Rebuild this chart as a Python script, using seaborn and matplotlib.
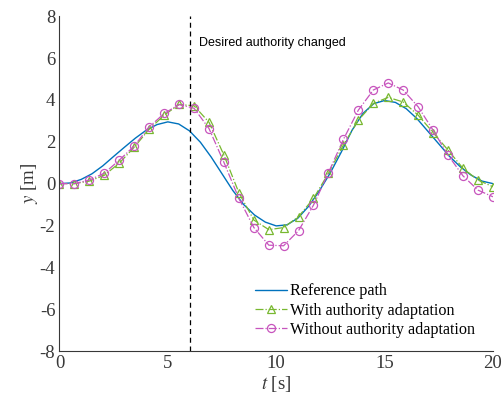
import numpy as np
import pandas as pd
import matplotlib
matplotlib.use("Agg")
import matplotlib.pyplot as plt
import seaborn as sns

# ---- data ----
t_ref = [0.0, 0.5, 1.0, 1.5, 2.0, 2.5, 3.0, 3.5, 4.0, 4.5, 5.0, 5.5, 6.0, 6.5, 7.0,
         7.5, 8.0, 8.5, 9.0, 9.5, 10.0, 10.5, 11.0, 11.5, 12.0, 12.5, 13.0, 13.5,
         14.0, 14.5, 15.0, 15.5, 16.0, 16.5, 17.0, 17.5, 18.0, 18.5, 19.0, 19.5, 20.0]
y_ref = [0.0, 0.03, 0.2, 0.47, 0.85, 1.3, 1.74, 2.17, 2.55, 2.82, 2.95, 2.85, 2.52,
         1.98, 1.27, 0.47, -0.33, -1.0, -1.5, -1.84, -2.02, -1.97, -1.65, -1.08,
         -0.33, 0.52, 1.5, 2.55, 3.35, 3.82, 3.97, 3.88, 3.58, 3.1, 2.5, 1.9, 1.3,
         0.8, 0.4, 0.12, 0.0]

t_mark = [0.0, 0.69, 1.38, 2.07, 2.76, 3.45, 4.14, 4.83, 5.52, 6.21, 6.90, 7.59,
          8.28, 8.97, 9.66, 10.34, 11.03, 11.72, 12.41, 13.10, 13.79, 14.48, 15.17,
          15.86, 16.55, 17.24, 17.93, 18.62, 19.31, 20.0]
y_with = [0.0, 0.0, 0.12, 0.4, 0.98, 1.74, 2.6, 3.27, 3.78, 3.72, 2.93, 1.36,
          -0.44, -1.74, -2.2, -2.1, -1.58, -0.71, 0.49, 1.84, 3.03, 3.83, 4.12,
          3.9, 3.27, 2.44, 1.6, 0.73, 0.17, -0.15]
y_without = [0.0, 0.0, 0.17, 0.5, 1.12, 1.8, 2.71, 3.35, 3.78, 3.6, 2.63, 1.01,
             -0.71, -2.1, -2.94, -2.97, -2.25, -1.03, 0.52, 2.11, 3.51, 4.47, 4.81,
             4.47, 3.67, 2.55, 1.36, 0.37, -0.31, -0.63]

x_ticks = [0, 5, 10, 15, 20]
y_ticks = [-8, -6, -4, -2, 0, 2, 4, 6, 8]
t_change = 6.0
labels = ["Reference path", "With authority adaptation", "Without authority adaptation"]

df_ref = pd.DataFrame({"t": t_ref, "y": y_ref})
df_with = pd.DataFrame({"t": t_mark, "y": y_with})
df_without = pd.DataFrame({"t": t_mark, "y": y_without})

# ---- style ----
sns.set_theme(style="white")
plt.rcParams["font.family"] = ["Liberation Serif", "DejaVu Serif"]
plt.rcParams["mathtext.fontset"] = "stix"
plt.rcParams["axes.unicode_minus"] = False

c_blue = (0.0, 0.447, 0.741)
c_green = (0.47, 0.72, 0.19)
c_mag = (0.78, 0.33, 0.74)
c_axis = (0.22, 0.22, 0.22)

fig = plt.figure(figsize=(5.04, 4.04), dpi=100)
ax = fig.add_axes([0.118, 0.131, 0.860, 0.829])

sns.lineplot(data=df_ref, x="t", y="y", ax=ax, color=c_blue, linewidth=1.0,
             label=labels[0])
sns.lineplot(data=df_with, x="t", y="y", ax=ax, color=c_green, linewidth=0.9,
             linestyle="-.", marker="^", markersize=5.8, markerfacecolor="none",
             markeredgecolor=c_green, markeredgewidth=0.9, label=labels[1])
sns.lineplot(data=df_without, x="t", y="y", ax=ax, color=c_mag, linewidth=0.9,
             linestyle="-.", marker="o", markersize=5.8, markerfacecolor="none",
             markeredgecolor=c_mag, markeredgewidth=0.9, label=labels[2])

ax.axvline(t_change, color="black", linestyle=(0, (4, 3)), linewidth=0.9)
ax.text(6.45, 6.72, "Desired authority changed", fontsize=9,
        family=["Liberation Sans", "DejaVu Sans"], va="center", ha="left",
        color="black")

ax.set_xlim(0, 20)
ax.set_ylim(-8, 8)
ax.set_xticks(x_ticks)
ax.set_yticks(y_ticks)
ax.tick_params(axis="both", direction="in", length=4, width=0.8,
               colors=c_axis, labelsize=13.5, pad=3)
for s in ["top", "right"]:
    ax.spines[s].set_visible(False)
for s in ["left", "bottom"]:
    ax.spines[s].set_color(c_axis)
    ax.spines[s].set_linewidth(0.8)

ax.set_xlabel(r"$t$ [s]", fontsize=13.5, color=c_axis, labelpad=1)
ax.set_ylabel(r"$y$ [m]", fontsize=13.5, color=c_axis, labelpad=0)

leg = ax.legend(loc="lower right", bbox_to_anchor=(0.974, 0.02), frameon=False,
                fontsize=11.6, handlelength=2.0, handletextpad=0.2,
                labelspacing=0.2, borderaxespad=0.0)
for txt in leg.get_texts():
    txt.set_color("black")

fig.savefig("out.png", dpi=100)
